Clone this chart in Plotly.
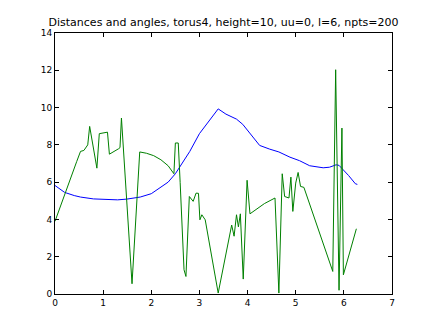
import plotly.graph_objects as go

# distances (blue)
dist_x = [0.0, 0.2, 0.4, 0.53, 0.8, 1.08, 1.3, 1.49, 1.77, 2.0, 2.18, 2.35, 2.5,
          2.8, 3.0, 3.2, 3.39, 3.55, 3.77, 3.9, 4.05, 4.25, 4.46, 4.65, 4.88,
          5.08, 5.29, 5.45, 5.57, 5.7, 5.84, 5.9, 5.98, 6.1, 6.24, 6.28]
dist_y = [5.82, 5.45, 5.28, 5.2, 5.1, 5.06, 5.05, 5.09, 5.2, 5.38, 5.68, 6.0, 6.45,
          7.65, 8.6, 9.25, 9.93, 9.65, 9.38, 9.1, 8.63, 7.97, 7.77, 7.62, 7.34,
          7.15, 6.88, 6.8, 6.77, 6.8, 6.93, 6.9, 6.7, 6.35, 5.91, 5.88]

# angles (green)
ang_x = [0.0, 0.15, 0.3, 0.45, 0.53, 0.6, 0.68, 0.72, 0.87, 0.92, 1.09, 1.13,
         1.32, 1.35, 1.38, 1.6, 1.76, 1.9, 2.05, 2.2, 2.35, 2.47, 2.5, 2.56,
         2.6, 2.68, 2.72, 2.79, 2.87, 2.93, 2.98, 3.01, 3.05, 3.12, 3.39,
         3.67, 3.72, 3.77, 3.81, 3.85, 3.91, 3.99, 4.05, 4.2, 4.35, 4.57,
         4.65, 4.72, 4.77, 4.86, 4.9, 4.94, 5.0, 5.05, 5.1, 5.17, 5.77,
         5.83, 5.9, 5.96, 5.99, 6.26]
ang_y = [3.9, 5.0, 6.1, 7.1, 7.65, 7.7, 8.0, 8.99, 6.75, 8.6, 8.68, 7.5,
         7.79, 7.85, 9.44, 0.55, 7.62, 7.55, 7.42, 7.2, 6.88, 6.45, 8.1, 8.1,
         5.97, 1.3, 0.94, 5.23, 4.97, 5.41, 5.4, 3.98, 4.25, 3.98, 0.05,
         3.7, 3.1, 4.25, 3.6, 4.3, 0.8, 6.1, 4.3, 4.6, 4.85, 5.15,
         0.05, 6.45, 5.23, 5.15, 6.27, 4.43, 5.95, 6.52, 5.77, 5.72, 1.21,
         12.03, 0.2, 8.9, 1.03, 3.5]

title = "Distances and angles, torus4, height=10, uu=0, l=6, npts=200"

fig = go.Figure()
fig.add_trace(go.Scatter(x=dist_x, y=dist_y, mode="lines",
                         line=dict(color="#0000ff", width=1)))
fig.add_trace(go.Scatter(x=ang_x, y=ang_y, mode="lines",
                         line=dict(color="#008000", width=1)))

axis_style = dict(showgrid=False, zeroline=False, showline=True,
                  linecolor="black", linewidth=1, mirror="ticks",
                  ticks="inside", ticklen=4, tickcolor="black",
                  automargin=False,
                  tickfont=dict(family="DejaVu Sans", size=9, color="black"))

# page body has an 8px margin, so the figure is a bit smaller
fig.update_layout(
    width=428, height=319,
    margin=dict(l=46.5, r=43.6, t=24.7, b=32.7, autoexpand=False),
    paper_bgcolor="white", plot_bgcolor="white",
    showlegend=False,
    title=dict(text=title, x=0.5, xref="paper", xanchor="center",
               y=0.956, yref="container", yanchor="middle", automargin=False,
               font=dict(family="DejaVu Sans", size=11, color="black")),
    xaxis=dict(range=[0, 7], dtick=1, **axis_style),
    yaxis=dict(range=[0, 14], dtick=2, **axis_style),
)

fig.write_html("out.html")
